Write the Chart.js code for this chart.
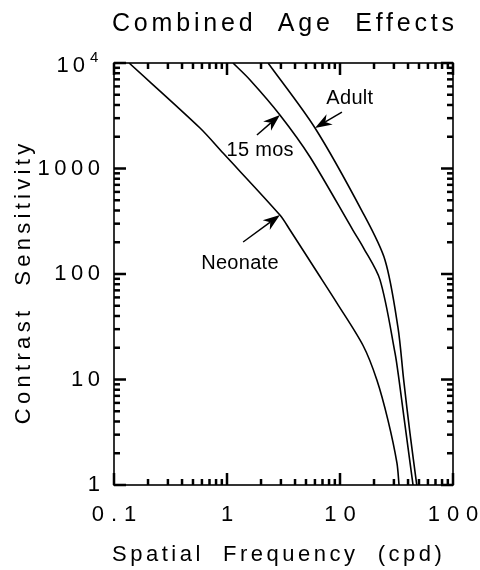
<!DOCTYPE html>
<html lang="en">
<head>
<meta charset="UTF-8">
<title>Combined Age Effects</title>
<script src="https://cdn.jsdelivr.net/npm/chart.js"></script>
<style>
    html, body {
        margin: 0;
        padding: 0;
        background: #fff;
    }
    #wrap {
        width: 480px;
        height: 570px;
    }
</style>
</head>
<body>
<div id="wrap"><canvas id="csfChart" width="480" height="570"></canvas></div>
<script>
    // axis ticks
    const freqTicks = [0.1, 1, 10, 100];
    const freqTickLabels = ['0.1', '1', '10', '100'];
    const sensTicks = [1, 10, 100, 1000, 10000];
    const sensTickLabels = ['1', '10', '100', '1000', '10^4'];

    // curves (spatial frequency in cpd, contrast sensitivity)
    const neonateFreq = [0.136, 0.577, 0.923, 2.94, 3.61, 6.1, 9.4, 16, 21.2, 26.6, 31.9, 33.3];
    const neonateSens = [10000, 2420, 1400, 362, 261, 109, 53, 21, 9.9, 4.1, 1.62, 1];

    const mos15Freq = [1.13, 1.6, 2.94, 5.43, 13.0, 16, 22.6, 30.7, 33.3, 36.8, 44.3];
    const mos15Sens = [10000, 6900, 3215, 1285, 261, 180, 88, 17.8, 9.9, 4.4, 1];

    const adultFreq = [2.31, 6.01, 16, 25, 32.6, 36.6, 41.6, 47.8];
    const adultSens = [10000, 2420, 378, 136, 31, 9.9, 3.1, 1];

    // curve labels and their arrows
    const noteText = ['Adult', '15 mos', 'Neonate'];
    const noteAt = [[12.2, 4660], [1.96, 1497], [1.30, 127]];
    const arrowFrom = [[10.4, 3430], [1.84, 2080], [1.39, 201]];
    const arrowTo = [[6.01, 2420], [2.94, 3215], [2.94, 362]];

    const FONT = '"Liberation Sans", Arial, Helvetica, sans-serif';

    const toPoints = (xs, ys) => xs.map((x, i) => ({ x: x, y: ys[i] }));

    // 2..9 times each decade start
    function minorValues(majors) {
        const out = [];
        for (let i = 0; i < majors.length - 1; i++) {
            for (let m = 2; m <= 9; m++) out.push(majors[i] * m);
        }
        return out;
    }

    // text with letter spacing; compensates the trailing gap
    function spacedText(ctx, text, x, y, spacing, align) {
        ctx.letterSpacing = spacing + 'px';
        ctx.textAlign = align;
        let dx = 0;
        if (align === 'center') dx = spacing / 2;
        if (align === 'right') dx = spacing;
        ctx.fillText(text, x + dx, y);
        ctx.letterSpacing = '0px';
    }

    function arrow(ctx, x0, y0, x1, y1) {
        const ang = Math.atan2(y1 - y0, x1 - x0);
        const cs = Math.cos(ang), sn = Math.sin(ang);
        const len = 17, half = 6, notch = 12;
        ctx.beginPath();
        ctx.moveTo(x0, y0);
        ctx.lineTo(x1 - cs * notch, y1 - sn * notch);
        ctx.stroke();
        const bx = x1 - cs * len, by = y1 - sn * len;
        ctx.beginPath();
        ctx.moveTo(x1, y1);
        ctx.lineTo(bx - sn * half, by + cs * half);
        ctx.lineTo(x1 - cs * notch, y1 - sn * notch);
        ctx.lineTo(bx + sn * half, by - cs * half);
        ctx.closePath();
        ctx.fill();
    }

    const decor = {
        id: 'decor',
        afterDraw(chart) {
            const ctx = chart.ctx;
            const a = chart.chartArea;
            const xs = chart.scales.x;
            const ys = chart.scales.y;
            ctx.save();
            ctx.strokeStyle = '#000';
            ctx.fillStyle = '#000';

            // frame
            ctx.lineWidth = 1.6;
            ctx.strokeRect(a.left, a.top, a.right - a.left, a.bottom - a.top);

            // tick labels
            ctx.textBaseline = 'alphabetic';
            ctx.font = '22px ' + FONT;
            freqTicks.forEach((v, i) => {
                spacedText(ctx, freqTickLabels[i], xs.getPixelForValue(v), a.bottom + 36, 7, 'center');
            });
            sensTicks.forEach((v, i) => {
                const py = ys.getPixelForValue(v);
                const lbl = sensTickLabels[i];
                if (lbl.includes('^')) {
                    const parts = lbl.split('^');
                    ctx.font = '22px ' + FONT;
                    spacedText(ctx, parts[0], a.left - 29, py + 9, 4, 'right');
                    ctx.font = '15px ' + FONT;
                    spacedText(ctx, parts[1], a.left - 24, py - 1, 0, 'left');
                    ctx.font = '22px ' + FONT;
                } else {
                    spacedText(ctx, lbl, a.left - 14, py + 6, 4.5, 'right');
                }
            });

            // titles
            ctx.font = '25px ' + FONT;
            spacedText(ctx, 'Combined  Age  Effects', 283, 31, 3.8, 'center');
            ctx.font = '22px ' + FONT;
            spacedText(ctx, 'Spatial  Frequency  (cpd)', 277, 561, 3.5, 'center');
            ctx.save();
            ctx.translate(30, 284);
            ctx.rotate(-Math.PI / 2);
            spacedText(ctx, 'Contrast  Sensitivity', 0, 0, 4.3, 'center');
            ctx.restore();

            // curve labels with arrows
            ctx.font = '20px ' + FONT;
            ctx.textBaseline = 'middle';
            noteText.forEach((t, i) => {
                spacedText(ctx, t, xs.getPixelForValue(noteAt[i][0]), ys.getPixelForValue(noteAt[i][1]), 0.3, 'center');
            });
            ctx.lineWidth = 1.5;
            arrowFrom.forEach((f, i) => {
                arrow(ctx,
                    xs.getPixelForValue(f[0]), ys.getPixelForValue(f[1]),
                    xs.getPixelForValue(arrowTo[i][0]), ys.getPixelForValue(arrowTo[i][1]));
            });

            // inward ticks on all four sides, drawn last
            const xMarks = freqTicks.map(v => [v, 12]).concat(minorValues(freqTicks).map(v => [v, 6]));
            const yMarks = sensTicks.map(v => [v, 12]).concat(minorValues(sensTicks).map(v => [v, 6]));
            const tw = 2.5;
            ctx.fillStyle = '#000000';
            xMarks.forEach(([v, len]) => {
                const px = xs.getPixelForValue(v);
                ctx.fillRect(px - tw / 2, a.bottom - len, tw, len);
                ctx.fillRect(px - tw / 2, a.top, tw, len);
            });
            yMarks.forEach(([v, len]) => {
                const py = ys.getPixelForValue(v);
                ctx.fillRect(a.left, py - tw / 2, len, tw);
                ctx.fillRect(a.right - len, py - tw / 2, len, tw);
            });
            ctx.restore();
        }
    };

    const lineStyle = {
        borderColor: '#000',
        borderWidth: 1.6,
        pointRadius: 0,
        fill: false,
        tension: 0.3
    };

    new Chart(document.getElementById('csfChart'), {
        type: 'line',
        data: {
            datasets: [
                { label: 'Neonate', data: toPoints(neonateFreq, neonateSens), ...lineStyle },
                { label: '15 mos', data: toPoints(mos15Freq, mos15Sens), ...lineStyle },
                { label: 'Adult', data: toPoints(adultFreq, adultSens), ...lineStyle }
            ]
        },
        options: {
            responsive: false,
            animation: false,
            layout: { padding: { top: 63, right: 27, left: 0, bottom: 0 } },
            plugins: {
                legend: { display: false },
                tooltip: { enabled: false }
            },
            scales: {
                x: {
                    type: 'logarithmic',
                    min: 0.1,
                    max: 100,
                    grid: { display: false },
                    border: { display: false },
                    ticks: { display: false },
                    afterFit(s) { s.height = 85; }
                },
                y: {
                    type: 'logarithmic',
                    min: 1,
                    max: 10000,
                    grid: { display: false },
                    border: { display: false },
                    ticks: { display: false },
                    afterFit(s) { s.width = 114; }
                }
            }
        },
        plugins: [decor]
    });
</script>
</body>
</html>
